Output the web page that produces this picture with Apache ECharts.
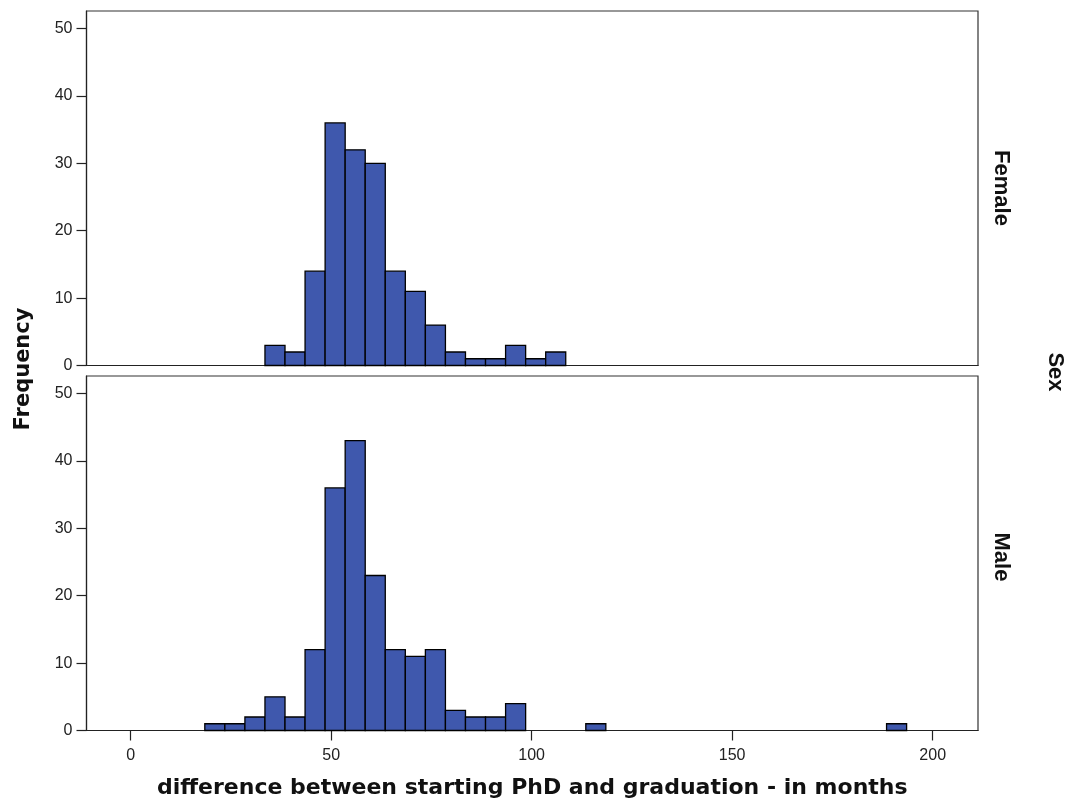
<!DOCTYPE html>
<html>
<head>
<meta charset="utf-8">
<script src="https://cdn.jsdelivr.net/npm/echarts@6/dist/echarts.min.js"></script>
<style>html,body{margin:0;padding:0;background:#fff;}#c{width:1065px;height:805px;}</style>
</head>
<body>
<div id="c"></div>
<script>
// Histogram bins (lower edges, months) and frequencies
const binWidth = 5;
const femaleBinStarts = [33.5, 38.5, 43.5, 48.5, 53.5, 58.5, 63.5, 68.5, 73.5, 78.5, 83.5, 88.5, 93.5, 98.5, 103.5];
const femaleCounts    = [3,    2,    14,   36,   32,   30,   14,   11,   6,    2,    1,    1,    3,    1,    2];
const maleBinStarts = [18.5, 23.5, 28.5, 33.5, 38.5, 43.5, 48.5, 53.5, 58.5, 63.5, 68.5, 73.5, 78.5, 83.5, 88.5, 93.5, 113.5, 188.5];
const maleCounts    = [1,    1,    2,    5,    2,    12,   36,   43,   23,   12,   11,   12,   3,    2,    2,    4,    1,     1];
const xTicks = [0, 50, 100, 150, 200];
const yTicks = [0, 10, 20, 30, 40, 50];
const panelNames = ['Female', 'Male'];
const xTitle = 'difference between starting PhD and graduation - in months';
const yTitle = 'Frequency';
const facetTitle = 'Sex';

const toData = (starts, counts) => starts.map((s, i) => [s, s + binWidth, counts[i]]);

function renderItem(params, api) {
  const p0 = api.coord([api.value(0), 0]);
  const p1 = api.coord([api.value(1), api.value(2)]);
  return {
    type: 'rect',
    shape: { x: p0[0], y: p1[1], width: p1[0] - p0[0], height: p0[1] - p1[1] },
    style: { fill: '#3F58AD', stroke: '#000', lineWidth: 1.3 }
  };
}

const chart = echarts.init(document.getElementById('c'), null, { renderer: 'canvas' });
const gridCommon = { left: 86.5, width: 891.5, height: 354.5, show: true, borderColor: '#333', borderWidth: 1.2,
  backgroundColor: '#fff', containLabel: false, outerBoundsMode: 'none' };
const tickFont = { fontFamily: 'Liberation Sans, Arial, sans-serif', fontSize: 16, color: '#222' };
const yAxisCommon = {
  type: 'value', min: 0, max: 52.6,
  splitLine: { show: false },
  axisLine: { show: true, onZero: false, lineStyle: { color: '#222', width: 1.2 } },
  axisTick: { show: true, length: 10, customValues: yTicks, lineStyle: { color: '#222', width: 1.2 } },
  axisLabel: Object.assign({ customValues: yTicks, margin: 14 }, tickFont)
};
const xAxisCommon = {
  type: 'value', min: -11, max: 211.3,
  splitLine: { show: false },
  axisLine: { show: true, onZero: false, lineStyle: { color: '#222', width: 1.2 } }
};

chart.setOption({
  animation: false,
  grid: [
    Object.assign({ top: 11 }, gridCommon),
    Object.assign({ top: 376 }, gridCommon)
  ],
  xAxis: [
    Object.assign({ gridIndex: 0, axisTick: { show: false }, axisLabel: { show: false } }, xAxisCommon),
    Object.assign({
      gridIndex: 1,
      axisTick: { show: true, length: 10, customValues: xTicks, lineStyle: { color: '#222', width: 1.2 } },
      axisLabel: Object.assign({ customValues: xTicks, margin: 17 }, tickFont),
      name: xTitle, nameLocation: 'middle', nameGap: 47,
      nameTextStyle: { fontFamily: 'DejaVu Sans, Verdana, sans-serif', fontWeight: 'bold', fontSize: 22, color: '#111' }
    }, xAxisCommon)
  ],
  yAxis: [
    Object.assign({ gridIndex: 0 }, yAxisCommon),
    Object.assign({ gridIndex: 1 }, yAxisCommon)
  ],
  series: [
    { type: 'custom', name: panelNames[0], xAxisIndex: 0, yAxisIndex: 0, renderItem, encode: { x: [0, 1], y: 2 }, data: toData(femaleBinStarts, femaleCounts) },
    { type: 'custom', name: panelNames[1], xAxisIndex: 1, yAxisIndex: 1, renderItem, encode: { x: [0, 1], y: 2 }, data: toData(maleBinStarts, maleCounts) }
  ],
  graphic: [
    { type: 'text', x: 24, y: 369, rotation: Math.PI / 2,
      style: { text: yTitle, font: 'bold 21px "DejaVu Sans", Verdana, sans-serif', fill: '#111', align: 'center', verticalAlign: 'middle' } },
    { type: 'text', x: 1001, y: 188, rotation: -Math.PI / 2,
      style: { text: panelNames[0], font: 'bold 22px "Liberation Sans", Arial, sans-serif', fill: '#111', align: 'center', verticalAlign: 'middle' } },
    { type: 'text', x: 1001, y: 557, rotation: -Math.PI / 2,
      style: { text: panelNames[1], font: 'bold 22px "Liberation Sans", Arial, sans-serif', fill: '#111', align: 'center', verticalAlign: 'middle' } },
    { type: 'text', x: 1055, y: 372, rotation: -Math.PI / 2,
      style: { text: facetTitle, font: 'bold 22px "Liberation Sans", Arial, sans-serif', fill: '#111', align: 'center', verticalAlign: 'middle' } }
  ]
});
</script>
</body>
</html>
